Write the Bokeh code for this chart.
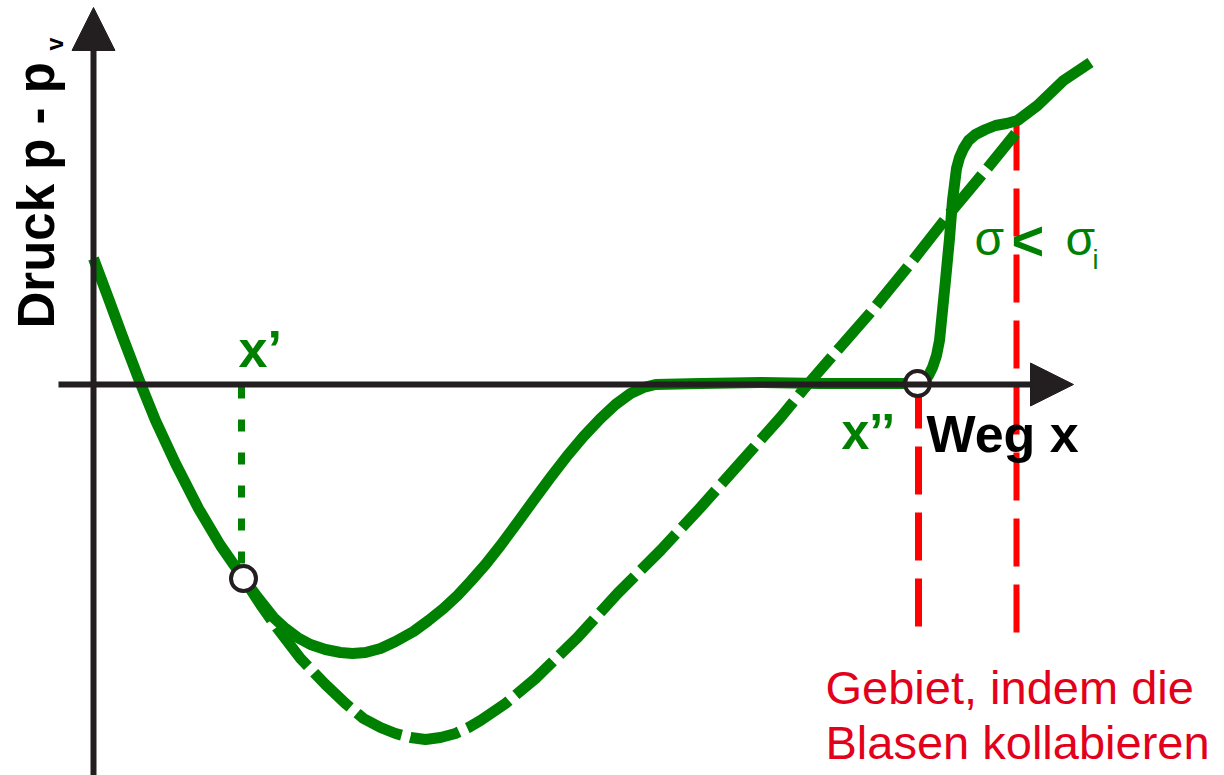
import math
from bokeh.plotting import figure
from bokeh.models import Arrow, NormalHead, Range1d
from bokeh.core.properties import value
from bokeh.embed import file_html
from bokeh.resources import INLINE

# ---- data (chart units: origin at the axis crossing, y up) ----
solid_x = [0, 15, 29, 45, 62, 82, 105, 127, 150, 165, 180, 192, 204, 217, 232, 247, 259, 272,
           287, 302, 320, 335, 350, 364, 377, 392, 407, 424, 440, 457, 474, 490, 507, 522,
           537, 550, 562, 607, 667, 727, 787, 824, 830, 835, 839, 843, 846, 848, 852, 856,
           859, 863, 866, 870, 875, 882, 892, 902, 913, 924, 944, 970, 997]
solid_y = [126, 86, 48, 6, -36, -79, -124, -161, -194, -214, -233, -244, -253, -260, -265, -268,
           -269, -268, -264, -257, -247, -236, -224, -211, -197, -180, -161, -138, -116, -93,
           -71, -52, -34, -20, -9, -3, 0, 1, 2, 1, 1, 1, 4, 9, 17, 29, 44, 64, 104, 146,
           184, 216, 227, 236, 244, 250, 255, 259, 261, 264, 279, 304, 322]

dash_x = [150, 167, 184, 207, 232, 252, 270, 287, 302, 317, 332, 347, 362, 375, 387, 412, 442,
          484, 524, 567, 607, 647, 687, 715, 742, 777, 817, 857, 892, 922]
dash_y = [-194, -220, -244, -274, -300, -319, -334, -343, -349, -353, -355, -353, -349, -343,
          -336, -319, -294, -253, -209, -166, -123, -78, -33, 1, 32, 72, 121, 172, 214, 251]

# marked points x' and x''
mark_x = [150, 824]
mark_y = [-194, 1]

# vertical guide lines
xprime_guide_x = [148, 148]
xprime_guide_y = [-2, -186]
red_left_x = [825, 825]
red_left_y = [4, -242]
red_right_x = [923, 923]
red_right_y = [262, -249]

# axes extents
yaxis_x = [0, 0]
yaxis_y = [-395, 377]
xaxis_x = [-35, 980]
xaxis_y = [0, 0]

GREEN = "#008000"
BLACK = "#231F20"
RED = "#FF0000"
RED_TXT = "#E3001B"
FONT = "Liberation Sans"

p = figure(width=1224, height=775, x_range=Range1d(-93, 1131), y_range=Range1d(-391, 384),
           x_axis_type=None, y_axis_type=None, output_backend="svg",
           toolbar_location=None, min_border=0)
p.outline_line_color = None
p.background_fill_color = "white"
p.border_fill_color = "white"

# axes with arrow heads
p.add_layout(Arrow(end=NormalHead(size=43, fill_color=BLACK, line_color=BLACK, line_width=1),
                   x_start=yaxis_x[0], y_start=yaxis_y[0], x_end=yaxis_x[1], y_end=yaxis_y[1],
                   line_width=6, line_color=BLACK))
p.add_layout(Arrow(end=NormalHead(size=43, fill_color=BLACK, line_color=BLACK, line_width=1),
                   x_start=xaxis_x[0], y_start=xaxis_y[0], x_end=xaxis_x[1], y_end=xaxis_y[1],
                   line_width=6, line_color=BLACK))

# red dashed region boundaries
p.line(red_left_x, red_left_y, line_color=RED, line_width=7, line_dash="48 18", line_cap="butt")
p.line(red_right_x, red_right_y, line_color=RED, line_width=6, line_dash="48 18", line_cap="butt")

# green dotted guide at x'
p.line(xprime_guide_x, xprime_guide_y, line_color=GREEN, line_width=7, line_dash="12 21",
       line_cap="butt")

# curves
p.line(solid_x, solid_y, line_color=GREEN, line_width=11, line_join="round", line_cap="butt")
p.line(dash_x, dash_y, line_color=GREEN, line_width=11, line_join="round", line_cap="butt",
       line_dash="50 9")

# markers
p.scatter(mark_x, mark_y, marker="circle", size=25, fill_color="white", line_color=BLACK,
          line_width=4)

# texts
def txt(x, y, s, size, color, style="normal", angle=0.0):
    p.text(x=[x], y=[y], text=[s], text_font=value(FONT), text_font_size=value(size),
           text_font_style=style, text_color=color, text_align="left",
           text_baseline="alphabetic", angle=angle)

txt(-57, 56, "Druck p - p", "51px", "black", "bold", math.pi / 2)
txt(-39, 334, "v", "23px", "black", "bold", math.pi / 2)
txt(145, 36, "x\u2019", "52px", GREEN, "bold")
txt(748, -47, "x\u2019\u2019", "50px", GREEN, "bold")
txt(833, -49, "Weg x", "52px", "black", "bold")
txt(881, 146, "\u03c3", "48px", GREEN)
txt(918, 144, "<", "56px", GREEN, "bold")
txt(972, 146, "\u03c3", "48px", GREEN)
txt(999, 125, "i", "27px", GREEN)
txt(732, -303, "Gebiet, indem die", "47px", RED_TXT)
txt(732, -358, "Blasen kollabieren", "47px", RED_TXT)

open("out.html", "w").write(file_html(p, INLINE))
